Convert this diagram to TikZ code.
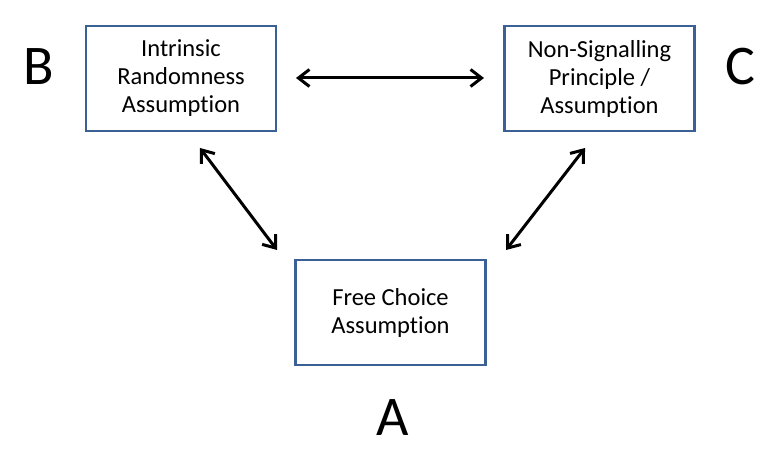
\documentclass[tikz,border=0pt]{standalone}
\usepackage{fontspec}
\setmainfont{Carlito}[Ligatures=NoCommon]
\usetikzlibrary{arrows.meta}
\definecolor{boxblue}{HTML}{3B6095}
\begin{document}
\begin{tikzpicture}[x=1pt,y=1pt,
  box/.style={draw=boxblue,line width=2.6pt,minimum width=190pt,minimum height=105pt,align=center,
    font=\fontsize{24.5}{28}\selectfont,inner sep=0pt},
  letter/.style={font=\fontsize{56}{60}\selectfont,inner sep=0pt},
  link/.style={line width=3pt,{Straight Barb[length=11pt,width=17pt]}-{Straight Barb[length=11pt,width=17pt]}}]
\useasboundingbox[fill=white] (0,0) rectangle (780,463);
\node[box] (B) at (181,384.5) {Intrinsic\\Randomness\\Assumption};
\node[box] (C) at (599.5,384.5) {Non-Signalling\\Principle /\\Assumption};
\node[box] (A) at (390.5,150.5) {Free Choice\\Assumption};
\node[letter] (LB) at (39,396) {B};
\node[letter] (LC) at (740,396) {C};
\node[letter] (LA) at (393,45) {A};
\coordinate (b1) at (296,385);
\coordinate (c1) at (484,385);
\coordinate (b2) at (200,315);
\coordinate (a1) at (277,213);
\coordinate (c2) at (585,315);
\coordinate (a2) at (506,213);
\draw[link] (b1) -- (c1);
\draw[link] (b2) -- (a1);
\draw[link] (c2) -- (a2);
\end{tikzpicture}
\end{document}
